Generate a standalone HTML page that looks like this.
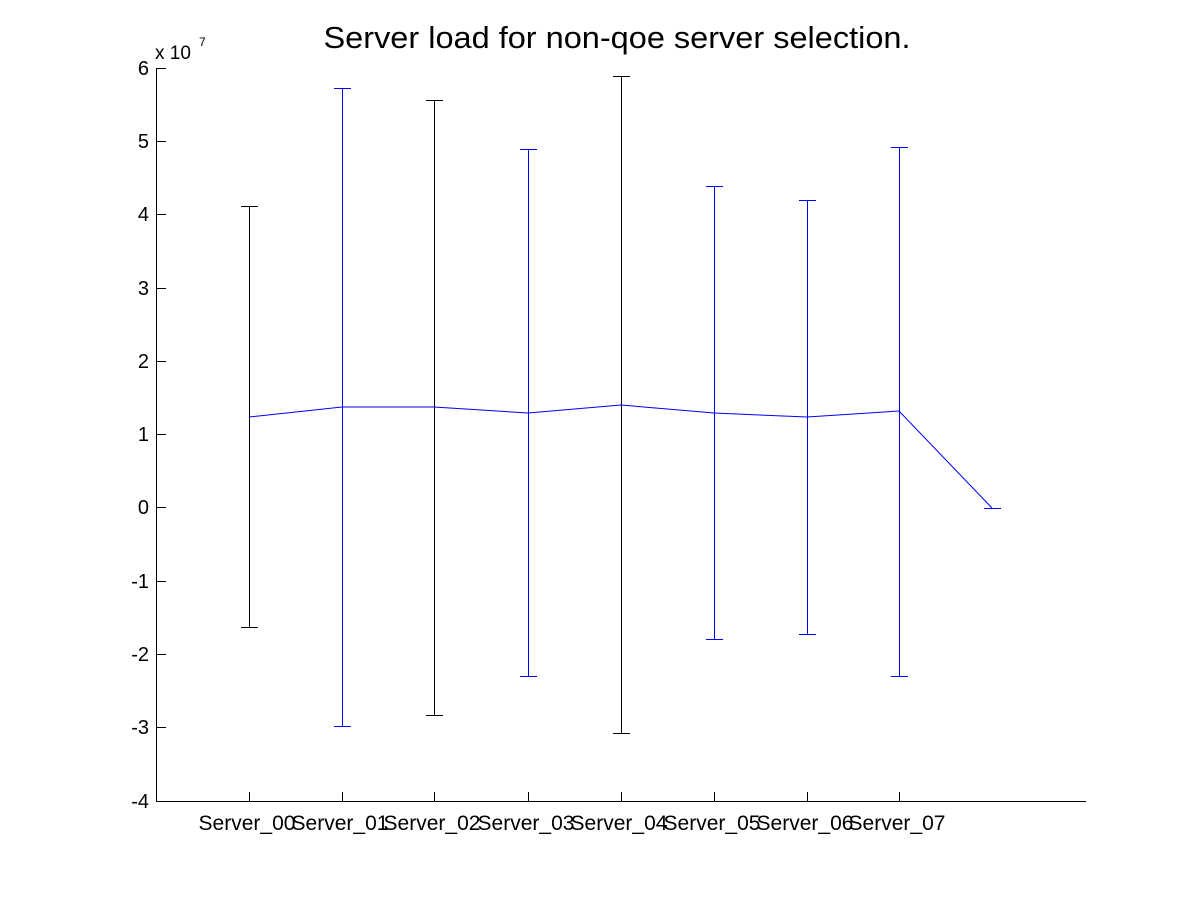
<!DOCTYPE html>
<html><head><style>body{margin:0;background:#fff}svg{display:block}</style></head><body>
<svg width="1200" height="901" xmlns="http://www.w3.org/2000/svg" font-family="Liberation Sans, sans-serif">
<rect width="1200" height="901" fill="#fff"/>
<text x="617" y="48" font-size="31" text-anchor="middle" textLength="587" lengthAdjust="spacingAndGlyphs">Server load for non-qoe server selection.</text>
<text x="155" y="59" font-size="19">x 10</text>
<text x="199" y="46" font-size="12">7</text>
<g stroke="#000" stroke-width="1" fill="none" shape-rendering="crispEdges">
<line x1="156.5" y1="68" x2="156.5" y2="802"/>
<line x1="156" y1="801.5" x2="1086" y2="801.5"/>
<line x1="156" y1="68.5" x2="166" y2="68.5"/>
<line x1="156" y1="141.5" x2="166" y2="141.5"/>
<line x1="156" y1="214.5" x2="166" y2="214.5"/>
<line x1="156" y1="288.5" x2="166" y2="288.5"/>
<line x1="156" y1="361.5" x2="166" y2="361.5"/>
<line x1="156" y1="434.5" x2="166" y2="434.5"/>
<line x1="156" y1="507.5" x2="166" y2="507.5"/>
<line x1="156" y1="581.5" x2="166" y2="581.5"/>
<line x1="156" y1="654.5" x2="166" y2="654.5"/>
<line x1="156" y1="727.5" x2="166" y2="727.5"/>
<line x1="249.5" y1="792" x2="249.5" y2="801"/>
<line x1="342.5" y1="792" x2="342.5" y2="801"/>
<line x1="434.5" y1="792" x2="434.5" y2="801"/>
<line x1="528.5" y1="792" x2="528.5" y2="801"/>
<line x1="621.5" y1="792" x2="621.5" y2="801"/>
<line x1="714.5" y1="792" x2="714.5" y2="801"/>
<line x1="807.5" y1="792" x2="807.5" y2="801"/>
<line x1="899.5" y1="792" x2="899.5" y2="801"/>
</g>
<g font-size="20" text-anchor="end">
<text x="149" y="75">6</text><text x="149" y="148">5</text><text x="149" y="221">4</text>
<text x="149" y="295">3</text><text x="149" y="368">2</text><text x="149" y="441">1</text>
<text x="149" y="514">0</text><text x="149" y="588">-1</text><text x="149" y="661">-2</text>
<text x="149" y="734">-3</text><text x="149" y="808">-4</text>
</g>
<g font-size="21" text-anchor="middle">
<text x="247" y="830">Server_00</text><text x="340" y="830">Server_01</text>
<text x="432" y="830">Server_02</text><text x="526" y="830">Server_03</text>
<text x="619" y="830">Server_04</text><text x="712" y="830">Server_05</text>
<text x="805" y="830">Server_06</text><text x="897" y="830">Server_07</text>
</g>
<g fill="none" stroke-width="1" shape-rendering="crispEdges">
<path stroke="#000" d="M249.5 206V627M241 206.5H258M241 627.5H258"/>
<path stroke="#00f" d="M342.5 88V726M334 88.5H351M334 726.5H351"/>
<path stroke="#000" d="M434.5 100V715M426 100.5H443M426 715.5H443"/>
<path stroke="#00f" d="M528.5 149V676M520 149.5H537M520 676.5H537"/>
<path stroke="#000" d="M621.5 76V733M613 76.5H630M613 733.5H630"/>
<path stroke="#00f" d="M714.5 186V639M706 186.5H723M706 639.5H723"/>
<path stroke="#00f" d="M807.5 200V634M799 200.5H816M799 634.5H816"/>
<path stroke="#0000ff" d="M899.5 147V676M891 147.5H908M891 676.5H908"/>
<path stroke="#00f" d="M984 508.5H1001"/>
</g>
<polyline fill="none" stroke="#00f" stroke-width="1" points="249,417 342,407 434,407 528,413 621,405 714,413 807,417 899,411 992,508"/>
</svg>
</body></html>
